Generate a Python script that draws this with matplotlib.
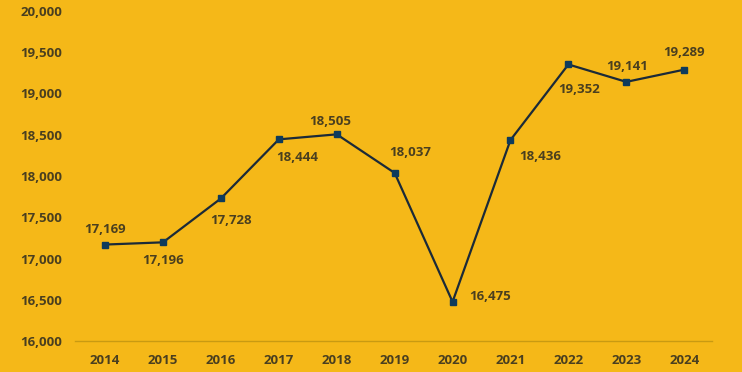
import matplotlib
matplotlib.use("Agg")
import matplotlib.pyplot as plt

years = [2014, 2015, 2016, 2017, 2018, 2019, 2020, 2021, 2022, 2023, 2024]
values = [17169, 17196, 17728, 18444, 18505, 18037, 16475, 18436, 19352, 19141, 19289]
# label offsets in pixels (dx, dy)
offsets = [(0, 15), (0, -18), (10, -22), (18, -18), (-7, 13), (15, 20),
           (38, 5), (30, -16), (11, -25), (1, 15), (0, 17)]
yticks = [16000, 16500, 17000, 17500, 18000, 18500, 19000, 19500, 20000]

bg = "#F5B818"
text_col = "#4A3F1F"

plt.rcParams["font.family"] = ["Open Sans", "DejaVu Sans"]

fig = plt.figure(figsize=(7.42, 3.72), dpi=100, facecolor=bg)
ax = fig.add_axes([75 / 742, 31 / 372, 637 / 742, 330 / 372], facecolor=bg)

ax.plot(years, values, color="#1B2A38", linewidth=1.6, marker="s",
        markersize=5, markerfacecolor="#0E3B5C", markeredgecolor="#0E3B5C", zorder=3)

for x, v, (dx, dy) in zip(years, values, offsets):
    ax.annotate(f"{v:,}", (x, v), xytext=(dx, dy), textcoords="offset pixels",
                ha="center", va="center", fontsize=9.5, fontweight="bold", color=text_col)

ax.set_xlim(2013.48, 2024.48)
ax.set_ylim(16000, 20000)
ax.set_xticks(years)
ax.set_yticks(yticks)
ax.set_yticklabels([f"{t:,}" for t in yticks])
ax.tick_params(axis="both", length=0, labelsize=9.5, labelcolor=text_col)
ax.tick_params(axis="y", pad=9)
ax.tick_params(axis="x", pad=9.5)
for lab in ax.get_xticklabels() + ax.get_yticklabels():
    lab.set_fontweight("bold")

for s in ["top", "right", "left"]:
    ax.spines[s].set_visible(False)
ax.spines["bottom"].set_color("#C99A12")
ax.spines["bottom"].set_linewidth(1)

fig.savefig("out.png", dpi=100, facecolor=bg)
